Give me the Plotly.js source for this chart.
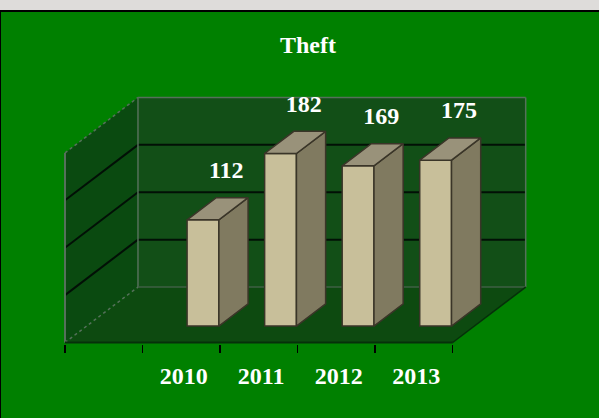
<!DOCTYPE html>
<html>
<head>
<meta charset="utf-8">
<script src="https://cdn.plot.ly/plotly-3.0.1.min.js"></script>
<style>
html,body{margin:0;padding:0;background:#008000;overflow:hidden}
#g{position:absolute;left:0;top:0;width:599px;height:418px}
#strip{position:absolute;left:0;top:0;width:599px;height:10px;background:#dedcda;z-index:5}
#rule{position:absolute;left:0;top:10px;width:599px;height:2px;background:#000;z-index:5}
#edge{position:absolute;left:0;top:10px;width:1px;height:408px;background:#000;z-index:5}
</style>
</head>
<body>
<div id="strip"></div><div id="rule"></div><div id="edge"></div>
<div id="g"></div>
<script>
var titleText = 'Theft';
var categories = ['2010', '2011', '2012', '2013'];
var values = [112, 182, 169, 175];
var gridValues = [50, 100, 150];
var axisMax = 200;

var slotCount = 5;
var firstSlot = 1;
var depthX = 0.941, depthY = 58.5;
var barWidth = 0.41, barFront = 0.297, barBack = 0.697;
var labelDX = 0.30, labelDY = 50.5;

function px(slot, d) { return slot + d * depthX; }
function py(v, d) { return v + d * depthY; }

var slotCenters = categories.map(function (c, i) { return firstSlot + i + 0.5; });
var tickEdges = [];
for (var t = 0; t <= slotCount; t++) tickEdges.push(t);

function poly(xs, ys, fill, line, w, dash) {
  var p = 'M' + xs.map(function (x, i) { return x + ',' + ys[i]; }).join('L') + 'Z';
  return {type: 'path', path: p, xref: 'x', yref: 'y', layer: 'below',
    fillcolor: fill, line: {color: line || 'rgba(0,0,0,0)', width: w || 0, dash: dash || 'solid'}};
}
function seg(x0, y0, x1, y1, color, w, dash) {
  return {type: 'line', x0: x0, y0: y0, x1: x1, y1: y1, xref: 'x', yref: 'y', layer: 'below',
    line: {color: color, width: w, dash: dash || 'solid'}};
}

var wallEdge = '#55705a';
var shapes = [
  poly([px(0,0),px(0,1),px(0,1),px(0,0)], [py(0,0),py(0,1),py(axisMax,1),py(axisMax,0)], '#0a4a10'),
  poly([px(0,1),px(slotCount,1),px(slotCount,1),px(0,1)], [py(0,1),py(0,1),py(axisMax,1),py(axisMax,1)], '#124f17'),
  poly([px(0,0),px(slotCount,0),px(slotCount,1),px(0,1)], [py(0,0),py(0,0),py(0,1),py(0,1)], '#0d4a10')
];
gridValues.forEach(function (v) {
  shapes.push(seg(px(0,0), py(v,0), px(0,1), py(v,1), '#021006', 2));
  shapes.push(seg(px(0,1), py(v,1), px(slotCount,1), py(v,1), '#021006', 2));
});
shapes.push(seg(px(0,1), py(axisMax,1), px(slotCount,1), py(axisMax,1), wallEdge, 1.5));
shapes.push(seg(px(0,1), py(0,1), px(0,1), py(axisMax,1), wallEdge, 1.5));
shapes.push(seg(px(slotCount,1), py(0,1), px(slotCount,1), py(axisMax,1), wallEdge, 1.5));
shapes.push(seg(px(0,1), py(0,1), px(slotCount,1), py(0,1), '#3f5f44', 1.5));
shapes.push(seg(px(0,0), py(0,0), px(0,0), py(axisMax,0), wallEdge, 2));
shapes.push(seg(px(0,0), py(axisMax,0), px(0,1), py(axisMax,1), wallEdge, 1.5, 'dot'));
shapes.push(seg(px(0,0), py(0,0), px(0,1), py(0,1), wallEdge, 1.5, 'dot'));
shapes.push(seg(px(0,0), py(0,0), px(slotCount,0), py(0,0), '#06300a', 2));
shapes.push(seg(px(slotCount,0), py(0,0), px(slotCount,1), py(0,1), '#06300a', 1.5));

var sideX = [], sideY = [], topX = [], topY = [];
values.forEach(function (v, i) {
  var left = slotCenters[i] - barWidth / 2, right = slotCenters[i] + barWidth / 2;
  sideX.push(px(right,barFront), px(right,barBack), px(right,barBack), px(right,barFront), px(right,barFront), null);
  sideY.push(py(0,barFront), py(0,barBack), py(v,barBack), py(v,barFront), py(0,barFront), null);
  topX.push(px(left,barFront), px(left,barBack), px(right,barBack), px(right,barFront), px(left,barFront), null);
  topY.push(py(v,barFront), py(v,barBack), py(v,barBack), py(v,barFront), py(v,barFront), null);
});

var barLine = '#3a3528';
var traces = [
  {type: 'bar', x: slotCenters.map(function (s) { return px(s, barFront); }), y: values,
   base: values.map(function () { return py(0, barFront); }), width: barWidth,
   marker: {color: '#c8bf9a', line: {color: barLine, width: 1.5}}, hoverinfo: 'skip', showlegend: false},
  {type: 'scatter', mode: 'lines', x: sideX, y: sideY, fill: 'toself', fillcolor: '#807a60',
   line: {color: barLine, width: 1.5}, hoverinfo: 'skip', showlegend: false},
  {type: 'scatter', mode: 'lines', x: topX, y: topY, fill: 'toself', fillcolor: '#99927a',
   line: {color: barLine, width: 1.5}, hoverinfo: 'skip', showlegend: false},
  {type: 'scatter', mode: 'text',
   x: slotCenters.map(function (s) { return px(s, barFront) + labelDX; }),
   y: values.map(function (v) { return py(v, barFront) + labelDY; }),
   text: values.map(String), textposition: 'middle center', cliponaxis: false,
   textfont: {family: 'Liberation Serif', size: 24, color: '#ffffff', weight: 'bold'},
   hoverinfo: 'skip', showlegend: false}
];

var layout = {
  width: 599, height: 418,
  paper_bgcolor: '#008000', plot_bgcolor: 'rgba(0,0,0,0)',
  margin: {l: 60, r: 64, t: 60, b: 74, pad: 0},
  showlegend: false,
  title: {text: '<b>' + titleText + '</b>', x: 308 / 599, xanchor: 'center', y: 1 - 45 / 418, yanchor: 'middle',
    font: {family: 'Liberation Serif', size: 24, color: '#ffffff'}},
  xaxis: {range: [-0.0645, 6.061], showgrid: false, zeroline: false, showline: false, fixedrange: true,
    tickmode: 'array', tickvals: slotCenters.map(function (s) { return s + 0.03; }),
    ticktext: categories.map(function (c) { return '<b>' + c + '</b>'; }),
    ticks: '', ticklabelstandoff: 15,
    tickfont: {family: 'Liberation Serif', size: 24, color: '#ffffff'},
    minor: {tickmode: 'array', tickvals: tickEdges, ticks: 'outside', ticklen: 8, tickwidth: 1.5, tickcolor: '#000000', showgrid: false}},
  yaxis: {range: [-1.58, 298], visible: false, fixedrange: true},
  shapes: shapes,
  bargap: 0
};
Plotly.newPlot('g', traces, layout, {staticPlot: true, displayModeBar: false});
</script>
</body>
</html>
